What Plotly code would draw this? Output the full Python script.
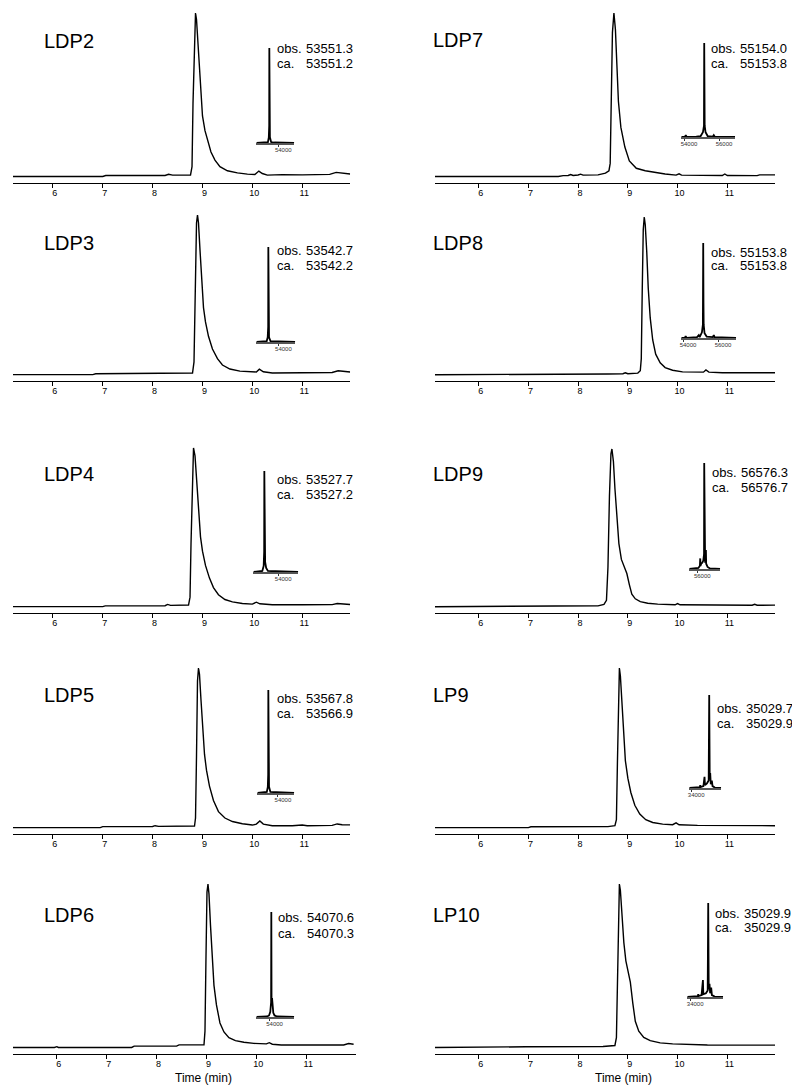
import plotly.graph_objects as go

W, H = 792, 1087
FONT = "Liberation Sans, Arial, Helvetica, sans-serif"

# ---------------- data ----------------
names = ["LDP2", "LDP3", "LDP4", "LDP5", "LDP6", "LDP7", "LDP8", "LDP9", "LP9", "LP10"]
obs_mass = ["53551.3", "53542.7", "53527.7", "53567.8", "54070.6",
            "55154.0", "55153.8", "56576.3", "35029.7", "35029.9"]
calc_mass = ["53551.2", "53542.2", "53527.2", "53566.9", "54070.3",
             "55153.8", "55153.8", "56576.7", "35029.9", "35029.9"]
time_ticks = [6, 7, 8, 9, 10, 11]

# chromatograms: retention time (min) / relative intensity
ldp2_t = [5.20, 7.00, 7.06, 8.25, 8.32, 8.40, 8.76, 8.79, 8.81, 8.84, 8.86, 8.88, 8.91, 8.94, 8.97, 9.00,
          9.05, 9.10, 9.17, 9.25, 9.35, 9.50, 9.70, 9.90, 10.05, 10.13, 10.20, 10.30, 10.60, 11.00, 11.30,
          11.55, 11.68, 11.78, 11.96]
ldp2_i = [0.0, 0.0, 0.6, 0.6, 1.3, 0.8, 0.9, 6, 45, 92, 100, 96, 80, 62, 47, 37,
          28, 22, 15, 10, 6, 3.5, 2.2, 1.4, 1.2, 3.3, 1.8, 0.8, 1.1, 1.0, 1.1,
          1.3, 2.5, 2.0, 1.5]

ldp3_t = [5.20, 6.80, 6.86, 8.30, 8.36, 8.80, 8.83, 8.85, 8.88, 8.90, 8.92, 8.95, 8.98, 9.02, 9.06, 9.12,
          9.20, 9.30, 9.40, 9.55, 9.75, 10.00, 10.08, 10.14, 10.22, 10.40, 11.00, 11.60, 11.72, 11.82, 11.96]
ldp3_i = [0.0, 0.0, 0.5, 0.6, 1.0, 1.0, 8, 50, 95, 100, 95, 78, 60, 42, 33, 24,
          16, 10, 6, 3.5, 2.2, 1.4, 1.6, 3.4, 1.8, 1.0, 1.2, 1.3, 2.4, 2.0, 1.6]

ldp4_t = [5.20, 7.00, 7.05, 8.25, 8.30, 8.36, 8.72, 8.75, 8.77, 8.80, 8.82, 8.85, 8.88, 8.92, 8.96, 9.00,
          9.06, 9.14, 9.22, 9.32, 9.45, 9.60, 9.80, 10.00, 10.08, 10.15, 10.40, 11.00, 11.60, 11.70, 11.80, 11.96]
ldp4_i = [0.0, 0.0, 0.5, 0.6, 1.4, 0.8, 1.0, 6, 40, 90, 100, 95, 80, 60, 44, 35,
          26, 18, 12, 7.5, 4.5, 3.0, 2.0, 1.6, 2.8, 1.8, 1.2, 1.2, 1.3, 2.0, 1.6, 1.4]

ldp5_t = [5.20, 6.95, 7.00, 8.00, 8.05, 8.12, 8.84, 8.86, 8.88, 8.90, 8.92, 8.94, 8.97, 9.00, 9.04, 9.08,
          9.14, 9.22, 9.32, 9.45, 9.60, 9.80, 10.00, 10.08, 10.15, 10.22, 10.40, 10.80, 11.00, 11.10, 11.60,
          11.70, 11.80, 11.96]
ldp5_i = [0.0, 0.0, 0.6, 0.7, 1.2, 0.8, 1.0, 6, 45, 92, 100, 96, 80, 62, 46, 36,
          26, 17, 10, 6, 3.8, 2.4, 1.6, 2.2, 4.2, 2.2, 1.2, 1.2, 1.6, 1.2, 1.4,
          2.3, 1.8, 1.7]

ldp6_t = [5.12, 5.95, 6.00, 6.03, 7.50, 7.55, 8.40, 8.45, 8.95, 8.97, 8.99, 9.01, 9.03, 9.05, 9.08, 9.11,
          9.15, 9.20, 9.27, 9.35, 9.45, 9.58, 9.75, 9.95, 10.20, 10.26, 10.32, 10.50, 11.00, 11.75, 11.85, 11.95]
ldp6_i = [0.0, 0.0, 0.5, 0.0, 0.0, 0.8, 0.8, 1.6, 1.6, 10, 55, 95, 100, 94, 75, 55,
          38, 26, 15, 9.5, 6, 4.2, 3.2, 2.5, 2.2, 2.9, 2.0, 1.5, 1.5, 1.5, 2.4, 2.0]

ldp7_t = [5.12, 7.60, 7.70, 7.80, 7.85, 7.90, 8.00, 8.05, 8.10, 8.40, 8.55, 8.62, 8.645, 8.66, 8.69, 8.72,
          8.75, 8.78, 8.81, 8.86, 8.94, 9.03, 9.17, 9.35, 9.50, 9.75, 9.97, 10.03, 10.08, 10.50, 10.90,
          10.95, 11.00, 11.60, 11.65, 11.96]
ldp7_i = [0.0, 0.0, 0.5, 0.6, 1.2, 0.6, 0.9, 1.4, 0.8, 1.0, 2.0, 3.5, 8, 45, 88, 100,
          90, 68, 46, 30, 18, 9.5, 5, 3.5, 2.6, 1.5, 0.8, 1.6, 0.8, 0.5, 0.6,
          1.5, 0.6, 0.5, 1.0, 1.0]

ldp8_t = [5.12, 7.00, 7.05, 8.60, 8.90, 8.95, 9.00, 9.20, 9.25, 9.27, 9.29, 9.31, 9.33, 9.35, 9.38, 9.41,
          9.45, 9.50, 9.56, 9.65, 9.75, 9.90, 10.10, 10.40, 10.52, 10.57, 10.63, 10.90, 11.50, 11.96]
ldp8_i = [0.0, 0.0, 0.4, 0.4, 0.6, 1.2, 0.6, 1.0, 2.5, 10, 55, 92, 100, 95, 78, 55,
          36, 22, 13, 7.5, 4.5, 2.8, 1.8, 1.4, 1.6, 3.0, 1.6, 1.2, 1.2, 1.2]

ldp9_t = [5.12, 7.50, 7.55, 8.40, 8.52, 8.57, 8.60, 8.63, 8.66, 8.68, 8.71, 8.74, 8.78, 8.82, 8.87, 8.93,
          8.98, 9.03, 9.08, 9.15, 9.25, 9.40, 9.60, 9.95, 10.00, 10.05, 10.50, 11.00, 11.50, 11.55, 11.60, 11.96]
ldp9_i = [0.0, 0.0, 0.4, 0.5, 1.5, 4, 25, 70, 97, 100, 92, 75, 55, 40, 30, 25,
          21, 14, 8, 5, 3.2, 2.2, 1.6, 1.2, 2.0, 1.2, 1.0, 1.0, 0.9, 1.5, 0.9, 1.0]

lp9_t = [5.12, 7.00, 7.05, 8.60, 8.74, 8.77, 8.79, 8.81, 8.83, 8.85, 8.88, 8.91, 8.95, 9.00, 9.06, 9.14,
         9.24, 9.36, 9.50, 9.70, 9.90, 9.97, 10.03, 10.40, 11.00, 11.60, 11.96]
lp9_i = [0.0, 0.0, 0.5, 0.6, 1.2, 5, 40, 88, 100, 95, 78, 58, 42, 31, 22, 14,
         8.5, 5, 3.2, 2.2, 1.8, 3.0, 1.8, 1.4, 1.2, 1.2, 1.2]

lp10_t = [5.12, 6.90, 6.95, 8.50, 8.74, 8.77, 8.79, 8.81, 8.83, 8.85, 8.88, 8.92, 8.96, 9.00, 9.05, 9.10,
          9.15, 9.22, 9.32, 9.45, 9.65, 9.90, 10.20, 10.60, 11.20, 11.96]
lp10_i = [0.0, 0.0, 0.4, 0.6, 1.2, 6, 45, 90, 100, 96, 82, 64, 53, 47, 40, 27,
          16, 10, 6.2, 4.2, 2.8, 2.2, 1.8, 1.5, 1.4, 1.4]

# deconvoluted mass spectra (insets): mass (Da) / relative intensity
ldp2_mz = [52901, 53400, 53480, 53525, 53545, 53551, 53557, 53580, 53640, 53800, 54801]
ldp2_ms = [0, 0.5, 1, 6, 18, 100, 20, 6, 1, 0.5, 0]
ldp3_mz = [53003, 53400, 53470, 53515, 53537, 53543, 53549, 53575, 53640, 54758]
ldp3_ms = [0, 0.5, 1, 5, 16, 100, 18, 5, 1, 0]
ldp4_mz = [53154, 53380, 53460, 53505, 53522, 53528, 53535, 53545, 53555, 53590, 53650, 54684]
ldp4_ms = [0, 0.5, 1, 6, 20, 100, 22, 25, 10, 4, 1, 0]
ldp5_mz = [53073, 53420, 53500, 53545, 53562, 53568, 53574, 53586, 53600, 53660, 54738]
ldp5_ms = [0, 0.5, 1, 6, 18, 100, 20, 18, 6, 1, 0]
ldp6_mz = [53471, 53900, 53980, 54030, 54062, 54071, 54080, 54100, 54115, 54135, 54150, 54200, 54300, 54991]
ldp6_ms = [0, 0.5, 1.5, 5, 14, 100, 16, 18, 8, 12, 4, 1.5, 0.5, 0]
ldp7_mz = [53843, 54050, 54100, 54150, 54700, 54950, 55080, 55140, 55154, 55165, 55180, 55230, 55350,
           55650, 55700, 55750, 56921]
ldp7_ms = [0, 0, 2, 0, 0.5, 1, 5, 12, 100, 30, 12, 5, 1, 0.5, 2, 0.5, 0]
ldp8_mz = [53900, 54100, 54150, 54200, 54800, 54900, 54950, 55080, 55135, 55154, 55168, 55180, 55200,
           55230, 55350, 55700, 55760, 55800, 57035]
ldp8_ms = [0, 0, 2, 0, 1, 3, 1, 6, 14, 100, 37, 14, 12, 5, 1.5, 1, 3, 1, 0]
ldp9_mz = [55346, 55900, 56100, 56220, 56248, 56265, 56330, 56420, 56500, 56560, 56576, 56590, 56650,
           56715, 56735, 56850, 57050, 57888]
ldp9_ms = [0, 0.5, 1, 3, 10, 3, 5, 6, 8, 14, 100, 12, 6, 18, 5, 2, 0.5, 0]
lp9_mz = [33890, 34300, 34500, 34517, 34540, 34700, 34762, 34790, 34900, 35000, 35030, 35060, 35087,
          35120, 35180, 35220, 35350, 35714]
lp9_ms = [0, 0.5, 1, 3, 1, 2, 12, 3, 5, 8, 100, 10, 16, 4, 8, 2, 0.5, 0]
lp10_mz = [33833, 34300, 34440, 34460, 34480, 34650, 34728, 34750, 34900, 35000, 35030, 35060, 35104,
           35140, 35200, 35240, 35400, 35885]
lp10_ms = [0, 0.5, 1, 3, 1, 2, 18, 3, 4, 7, 100, 8, 14, 4, 10, 2, 0.5, 0]

chrom = [(ldp2_t, ldp2_i), (ldp3_t, ldp3_i), (ldp4_t, ldp4_i), (ldp5_t, ldp5_i), (ldp6_t, ldp6_i),
         (ldp7_t, ldp7_i), (ldp8_t, ldp8_i), (ldp9_t, ldp9_i), (lp9_t, lp9_i), (lp10_t, lp10_i)]
spectra = [(ldp2_mz, ldp2_ms), (ldp3_mz, ldp3_ms), (ldp4_mz, ldp4_ms), (ldp5_mz, ldp5_ms),
           (ldp6_mz, ldp6_ms), (ldp7_mz, ldp7_ms), (ldp8_mz, ldp8_ms), (ldp9_mz, ldp9_ms),
           (lp9_mz, lp9_ms), (lp10_mz, lp10_ms)]
inset_ticks = [[54000], [54000], [54000], [54000], [54000],
               [54000, 56000], [54000, 56000], [56000], [34000], [34000]]

# ---------------- layout geometry (pixels) ----------------
# main panels: x-left, x-right, axis line y, apex y, time range
main_geo = [
    (11, 349, 183, 13, [5.20, 11.96]),
    (11, 349, 381, 215, [5.20, 11.96]),
    (11, 349, 613, 448, [5.20, 11.96]),
    (11, 349, 834, 668, [5.20, 11.96]),
    (11, 355, 1054, 884, [5.12, 12.00]),
    (434, 775, 183, 13, [5.12, 11.96]),
    (434, 775, 381, 217, [5.12, 11.96]),
    (434, 775, 613, 449, [5.12, 11.96]),
    (434, 775, 834, 668, [5.12, 11.96]),
    (434, 775, 1054, 884, [5.12, 11.96]),
]
# insets: left, right, base y, top y, mass range
inset_geo = [
    (255, 293, 143, 48, [52901, 54801]),
    (255, 294, 342, 247, [53003, 54758]),
    (252, 297, 572, 471, [53154, 54684]),
    (256, 293, 793, 690, [53073, 54738]),
    (255, 293, 1017, 912, [53471, 54991]),
    (681, 735, 137, 43, [53843, 56921]),
    (681, 736, 338, 243, [53900, 57035]),
    (689, 720, 569, 463, [55346, 57888]),
    (689, 721, 788, 695, [33890, 35714]),
    (687, 723, 997, 903, [33833, 35885]),
]
label_pos = [(40, 41), (40, 243), (40, 474), (40, 695), (40, 915),
             (430, 40), (430, 243), (430, 474), (430, 695), (430, 915)]
obs_pos = [(274, 49, 64), (274, 251, 266), (274, 480, 495), (274, 698, 713), (275, 917, 933),
           (709, 49, 64), (709, 252, 266), (710, 472, 487), (715, 708, 723), (713, 913, 927)]


def px(x):
    return x / W


def py(y):
    return 1 - y / H


fig = go.Figure()
layout = {}
annotations = []
YLO, YHI = -4, 102

for k in range(10):
    n = k + 1
    t, inten = chrom[k]
    xl, xr, ax_y, apex_y, trange = main_geo[k]
    scale = (ax_y - apex_y) / (100 - YLO)
    top_px = ax_y - (YHI - YLO) * scale
    fig.add_trace(go.Scatter(x=t, y=inten, mode="lines", line=dict(color="black", width=1.4),
                             xaxis=f"x{n}", yaxis=f"y{n}", showlegend=False, hoverinfo="skip"))
    layout[f"xaxis{n}"] = dict(domain=[px(xl), px(xr)], range=trange, anchor=f"y{n}",
                               showline=True, linecolor="black", linewidth=1, showgrid=False,
                               zeroline=False, tickvals=time_ticks,
                               ticktext=[str(v) for v in time_ticks],
                               ticks="outside", ticklen=4, ticklabelstandoff=-3,
                               tickwidth=1, tickcolor="black", ticklabelshift=2,
                               tickfont=dict(size=9, color="black", family=FONT))
    layout[f"yaxis{n}"] = dict(domain=[py(ax_y), py(top_px)], range=[YLO, YHI], anchor=f"x{n}",
                               visible=False, showgrid=False, zeroline=False)

    # inset mass spectrum
    m = n + 10
    mz, ms = spectra[k]
    il, ir, ib, it, mrange = inset_geo[k]
    fig.add_trace(go.Scatter(x=mz, y=ms, mode="lines", line=dict(color="black", width=1.8),
                             xaxis=f"x{m}", yaxis=f"y{m}", showlegend=False, hoverinfo="skip"))
    layout[f"xaxis{m}"] = dict(domain=[px(il), px(ir)], range=mrange, anchor=f"y{m}",
                               showline=True, linecolor="#555555", linewidth=2, showgrid=False,
                               zeroline=False, tickvals=inset_ticks[k],
                               ticktext=[str(v) for v in inset_ticks[k]],
                               ticks="outside", ticklen=2, ticklabelstandoff=-2,
                               tickwidth=0.8, tickcolor="#333333", ticklabelshift=5,
                               tickfont=dict(size=6, color="#333333", family=FONT))
    layout[f"yaxis{m}"] = dict(domain=[py(ib), py(it - 1)], range=[0, 101], anchor=f"x{m}",
                               visible=False, showgrid=False, zeroline=False)

    lx, ly = label_pos[k]
    annotations.append(dict(text=names[k], x=px(lx), y=py(ly), xref="paper", yref="paper",
                            xanchor="left", yanchor="middle", showarrow=False,
                            font=dict(size=20, color="black", family=FONT)))
    ox, oy, cy = obs_pos[k]
    for txt, xx, yy in [("obs.", ox, oy), (obs_mass[k], ox + 29, oy),
                        ("ca.", ox, cy), (calc_mass[k], ox + 29, cy)]:
        annotations.append(dict(text=txt, x=px(xx), y=py(yy), xref="paper", yref="paper",
                                xanchor="left", yanchor="middle", showarrow=False,
                                font=dict(size=13, color="black", family=FONT)))

for cx in (202, 623):
    annotations.append(dict(text="Time (min)", x=px(cx), y=py(1078), xref="paper", yref="paper",
                            xanchor="center", yanchor="middle", showarrow=False,
                            font=dict(size=12, color="black", family=FONT)))

fig.update_layout(width=W, height=H, margin=dict(l=0, r=0, t=0, b=0),
                  paper_bgcolor="white", plot_bgcolor="white",
                  font=dict(family=FONT, color="black"), annotations=annotations, **layout)

fig.write_html("out.html")
